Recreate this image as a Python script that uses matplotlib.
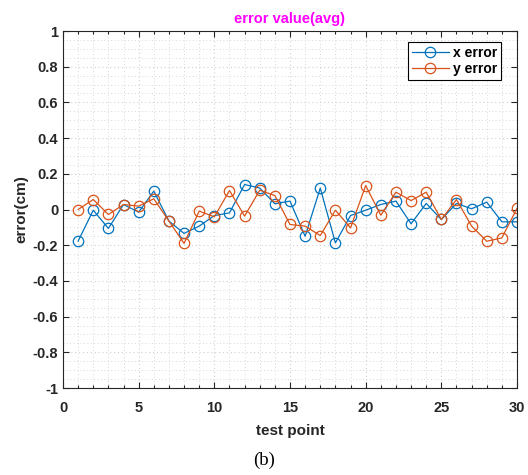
import numpy as np
import matplotlib
matplotlib.use('Agg')
import matplotlib.pyplot as plt
from matplotlib.ticker import MultipleLocator

plt.rcParams['font.family'] = ['Liberation Sans', 'DejaVu Sans']

# ── data ──────────────────────────────────────────────────────────────────────
test_point = np.arange(1, 31)
x_error = [-0.177, -0.004, -0.106, 0.028, -0.015, 0.103, -0.065, -0.134, -0.093, -0.034,
           -0.019, 0.140, 0.120, 0.032, 0.047, -0.150, 0.120, -0.187, -0.034, -0.004,
           0.028, 0.047, -0.080, 0.034, -0.056, 0.034, 0.004, 0.041, -0.069, -0.069]
y_error = [0.000, 0.056, -0.028, 0.028, 0.019, 0.060, -0.065, -0.190, -0.009, -0.041,
           0.106, -0.037, 0.108, 0.078, -0.084, -0.093, -0.146, -0.004, -0.103, 0.134,
           -0.032, 0.097, 0.050, 0.097, -0.056, 0.056, -0.093, -0.178, -0.159, 0.006]

BLUE = '#0072BD'
ORANGE = '#D95319'
AX_COL = '#262626'

fig = plt.figure(figsize=(5.28, 4.75), dpi=100)
ax = fig.add_axes([63/528, 1-388/475, (517-63)/528, (388-31)/475])

mk = dict(marker='o', markersize=7.5, markerfacecolor='none', lw=0.9, mew=0.9)
ax.plot(test_point, x_error, color=BLUE, label='x error', **mk)
ax.plot(test_point, y_error, color=ORANGE, label='y error', **mk)

ax.set_xlim(0, 30)
ax.set_ylim(-1, 1)
ax.xaxis.set_major_locator(MultipleLocator(5))
ax.xaxis.set_minor_locator(MultipleLocator(1))
ax.yaxis.set_minor_locator(MultipleLocator(0.05))
ax.set_yticks(np.arange(-1, 1.01, 0.2))
ax.set_yticklabels(['-1', '-0.8', '-0.6', '-0.4', '-0.2', '0', '0.2', '0.4', '0.6', '0.8', '1'])

# sparse dotted MATLAB-like grid
ax.grid(which='major', color='#d0d0d0', ls=(0, (1, 2.5)), lw=0.8)
ax.grid(which='minor', color='#d8d8d8', ls=(0, (1, 2.5)), lw=0.7)
ax.set_axisbelow(True)

ax.tick_params(which='both', direction='in', top=True, right=True, colors=AX_COL,
               labelsize=10.5, width=0.8)
ax.tick_params(which='major', length=4.5)
ax.tick_params(axis='x', which='minor', length=2)
ax.tick_params(axis='y', which='minor', length=0)
ax.tick_params(axis='x', which='major', pad=9)
for lab in ax.get_xticklabels() + ax.get_yticklabels():
    lab.set_fontweight('bold')
for s in ax.spines.values():
    s.set_color(AX_COL)
    s.set_linewidth(0.8)

ax.set_title('error value(avg)', color='#FF00FF', fontweight='bold', fontsize=10.5, pad=6)
ax.set_xlabel('test point', fontweight='bold', fontsize=11, color=AX_COL, labelpad=7)
ax.set_ylabel('error(cm)', fontweight='bold', fontsize=11, color=AX_COL, labelpad=3)

leg = ax.legend(loc='upper right', fontsize=10, frameon=True, fancybox=False,
                edgecolor='black', framealpha=1, bbox_to_anchor=(0.965, 0.97),
                borderaxespad=0.0,
                handlelength=2.6, handletextpad=0.3, borderpad=0.3, labelspacing=0.15)
leg.get_frame().set_linewidth(0.8)
for t in leg.get_texts():
    t.set_fontweight('bold')

fig.text(264/528, 1-460/475, '(b)', family=['Liberation Serif', 'DejaVu Serif'],
         fontsize=13.5, ha='center', va='center')

fig.savefig('out.png', dpi=100, facecolor='white')
